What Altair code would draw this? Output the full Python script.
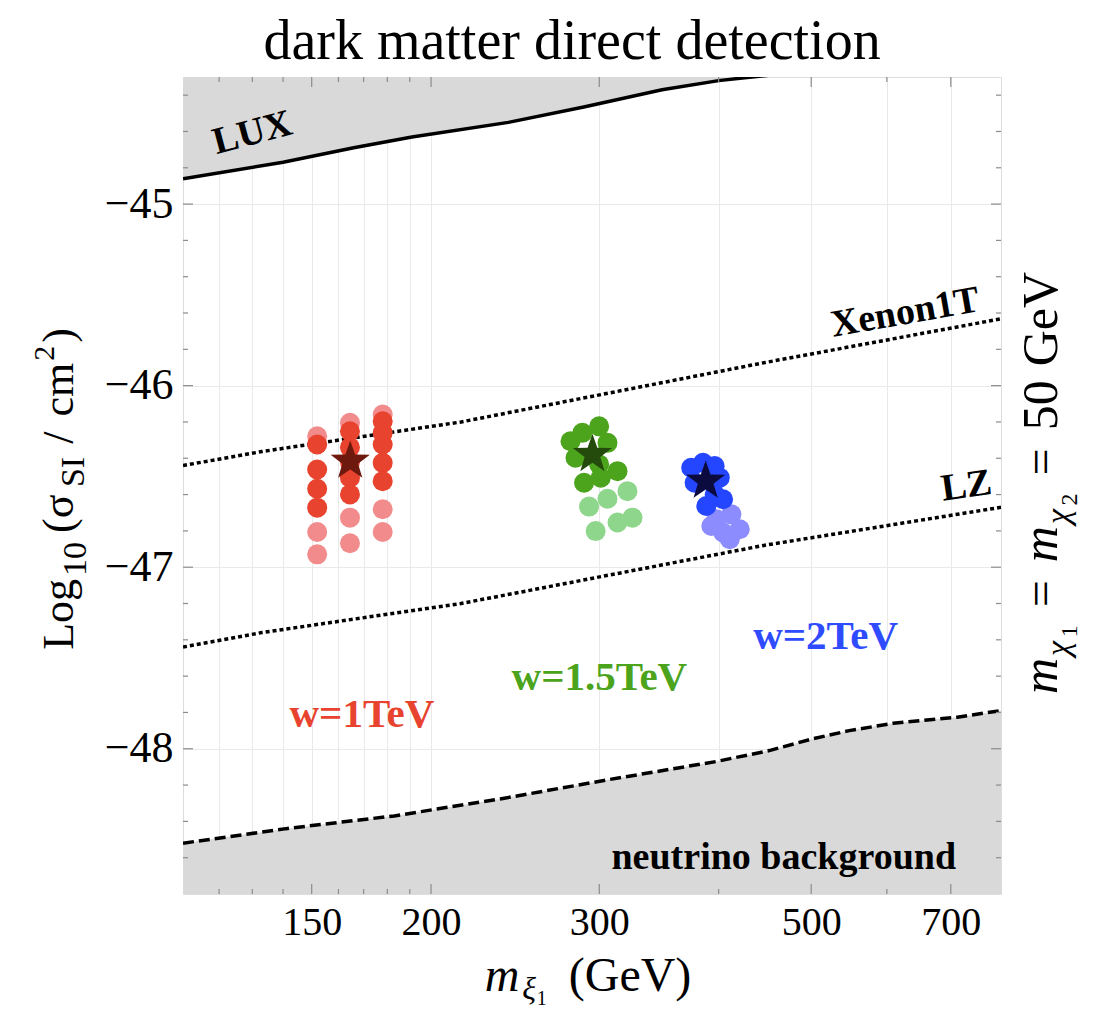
import math
import altair as alt
import pandas as pd

# ---------------- data ----------------
x_major = [150, 200, 300, 500, 700]
x_minor = [120, 130, 140, 160, 170, 180, 190, 400, 600]
y_major = [-45, -46, -47, -48]
y_minor = [-44.4, -44.6, -44.8, -45.2, -45.4, -45.6, -45.8, -46.2, -46.4, -46.6, -46.8,
           -47.2, -47.4, -47.6, -47.8, -48.2, -48.4, -48.6]

lux_m = [110, 140, 166, 191, 241, 289, 349, 400, 452, 480]
lux_s = [-44.86, -44.77, -44.69, -44.63, -44.55, -44.465, -44.37, -44.32, -44.29, -44.27]

xenon_m = [110, 133, 215, 446, 790]
xenon_s = [-46.44, -46.363, -46.20, -45.874, -45.632]

lz_m = [110, 133, 215, 446, 790]
lz_s = [-47.44, -47.36, -47.20, -46.88, -46.67]

nu_m = [110, 141, 183, 237, 307, 398, 452, 502, 548, 609, 711, 790]
nu_s = [-48.52, -48.44, -48.37, -48.275, -48.17, -48.07, -48.01, -47.945, -47.90, -47.86, -47.826, -47.79]

# w = 1 TeV (red)
red_dark_m = [152, 152, 152, 152, 164.5, 164.5, 164.5, 164.5, 164.5, 178, 178, 178, 178, 178]
red_dark_s = [-46.324, -46.462, -46.568, -46.672, -46.251, -46.34, -46.42, -46.507, -46.599,
              -46.196, -46.26, -46.324, -46.425, -46.526]
red_light_m = [152, 152, 152, 164.5, 164.5, 164.5, 178, 178, 178]
red_light_s = [-46.279, -46.806, -46.929, -46.205, -46.727, -46.868, -46.159, -46.681, -46.806]

# w = 1.5 TeV (green)
green_dark_m = [279.9, 288, 299.9, 306, 283.3, 299.9, 313.5, 289.2, 301.1]
green_dark_s = [-46.306, -46.26, -46.224, -46.315, -46.397, -46.434, -46.471, -46.535, -46.507]
green_light_m = [292.7, 306, 321.1, 297.4, 313.5, 325]
green_light_s = [-46.666, -46.623, -46.581, -46.801, -46.754, -46.727]

# w = 2 TeV (blue)
blue_dark_m = [374.4, 385.2, 396.2, 401.1, 377.5, 388.3, 404.3, 396.2]
blue_dark_s = [-46.452, -46.425, -46.443, -46.507, -46.535, -46.663, -46.626, -46.599]
blue_light_m = [397.8, 412.5, 420.9, 404.3, 410.9, 393]
blue_light_s = [-46.736, -46.709, -46.791, -46.809, -46.846, -46.773]

star_m = [164.6, 295.1, 387.7]
star_s = [-46.416, -46.379, -46.526]
star_group = ["red", "green", "blue"]

curve_labels = ["LUX", "Xenon1T", "LZ", "neutrino background"]
curve_label_m = [130, 627, 727, 468]
curve_label_s = [-44.61, -45.6, -46.555, -48.604]

w_labels = ["w=1TeV", "w=1.5TeV", "w=2TeV"]
w_label_m = [169.3, 300.1, 517.6]
w_label_s = [-47.813, -47.61, -47.385]

# ---------------- style / layout ----------------
W, H = 818, 817
FONT = "Liberation Serif"
GRAY_FILL = "#d9d9d9"
TICK = "#8c8c8c"
GRID = "#e9e9e9"
xs = alt.Scale(type="log", domain=[110, 790], nice=False)
ys = alt.Scale(domain=[-48.8, -44.3], nice=False, zero=False)

XAXIS = alt.Axis(
    values=sorted(x_major + x_minor), format="d",
    labelExpr="indexof([150,200,300,500,700], datum.value) >= 0 ? datum.label : ''",
    ticks=False, domain=False, grid=True, gridColor=GRID, gridWidth=1,
    labelFont=FONT, labelFontSize=40, labelPadding=8, labelColor="black",
    labelOverlap=False, labelFlush=False, title=None)
YAXIS = alt.Axis(
    values=y_major, format="d", ticks=False, domain=False, grid=True,
    gridColor=GRID, gridWidth=1, labelFont=FONT, labelFontSize=44,
    labelPadding=10, labelColor="black", labelOverlap=False, labelFlush=False, title=None)

RED, RED_L, RED_S = "#e8432e", "#f28c8c", "#6e190e"
GRN, GRN_L, GRN_S = "#4ca31c", "#8fd68d", "#244a0c"
BLU, BLU_L, BLU_S = "#2446ff", "#8c8cff", "#0b0b40"

REG = {'L': .611, 'o': .5, 'g': .5, '1': .5, '0': .5, '2': .5, '5': .5, '(': .333, ')': .333,
       'σ': .55, 'S': .556, 'I': .333, ' ': .25, '/': .278, 'c': .444, 'm': .778, '=': .564,
       'G': .722, 'e': .444, 'V': .722, 'χ': .55, 'ξ': .45}
ITA = dict(REG, m=.722)


def tw(s, size, italic=False):
    t = ITA if italic else REG
    return sum(t.get(ch, .5) for ch in s) * size


def txt(text, x, y, size, angle=0, align="left", italic=False, bold=False,
        color="black", baseline="alphabetic"):
    props = dict(font=FONT, fontSize=size, align=align, baseline=baseline, color=color)
    if angle:
        props["angle"] = angle
    if italic:
        props["fontStyle"] = "italic"
    if bold:
        props["fontWeight"] = "bold"
    return alt.Chart(pd.DataFrame({"t": [text]})).mark_text(**props).encode(
        text="t:N", x=alt.value(x), y=alt.value(y))


def rotated(pieces, base_x, center_y):
    total = sum(g + tw(t, s, it) for t, s, p, g, it in pieces)
    y = center_y + total / 2
    out = []
    for t, s, p, g, it in pieces:
        y -= g
        out.append(txt(t, base_x + p, y, s, angle=270, italic=it))
        y -= tw(t, s, it)
    return out


def horizontal(pieces, center_x, base_y):
    total = sum(g + tw(t, s, it) for t, s, p, g, it in pieces)
    x = center_x - total / 2
    out = []
    for t, s, p, g, it in pieces:
        x += g
        out.append(txt(t, x, base_y + p, s, italic=it))
        x += tw(t, s, it)
    return out


def df(m, s):
    return pd.DataFrame({"m": m, "s": s})


X = lambda: alt.X("m:Q", scale=xs, axis=XAXIS)
Y = lambda: alt.Y("s:Q", scale=ys, axis=YAXIS)

layers = []

# shaded exclusion regions
layers.append(alt.Chart(df(lux_m, lux_s)).mark_area(color=GRAY_FILL, clip=True).encode(
    x=X(), y=Y(), y2=alt.datum(-44.3)))
layers.append(alt.Chart(df(nu_m, nu_s)).mark_area(color=GRAY_FILL, clip=True).encode(
    x=X(), y=Y(), y2=alt.datum(-48.8)))

# curves
layers.append(alt.Chart(df(lux_m, lux_s)).mark_line(color="black", strokeWidth=3.5, clip=True).encode(x=X(), y=Y()))
layers.append(alt.Chart(df(xenon_m, xenon_s)).mark_line(color="black", strokeWidth=3.5, strokeDash=[4, 3], clip=True).encode(x=X(), y=Y()))
layers.append(alt.Chart(df(lz_m, lz_s)).mark_line(color="black", strokeWidth=3.5, strokeDash=[4, 3], clip=True).encode(x=X(), y=Y()))
layers.append(alt.Chart(df(nu_m, nu_s)).mark_line(color="black", strokeWidth=3.5, strokeDash=[11, 5], clip=True).encode(x=X(), y=Y()))

# ticks (inward, all four sides)
for vals, ln in ((x_major, 10), (x_minor, 5)):
    d = pd.DataFrame({"m": vals})
    layers.append(alt.Chart(d).mark_rule(color=TICK, strokeWidth=1.2).encode(
        x=X(), y=alt.value(H), y2=alt.value(H - ln)))
    layers.append(alt.Chart(d).mark_rule(color=TICK, strokeWidth=1.2).encode(
        x=X(), y=alt.value(0), y2=alt.value(ln)))
for vals, ln in ((y_major, 10), (y_minor, 5)):
    d = pd.DataFrame({"s": vals})
    layers.append(alt.Chart(d).mark_rule(color=TICK, strokeWidth=1.2).encode(
        y=Y(), x=alt.value(0), x2=alt.value(ln)))
    layers.append(alt.Chart(d).mark_rule(color=TICK, strokeWidth=1.2).encode(
        y=Y(), x=alt.value(W), x2=alt.value(W - ln)))

# scatter points
PT = 400
for (m, s, c) in ((red_light_m, red_light_s, RED_L), (red_dark_m, red_dark_s, RED),
                  (green_light_m, green_light_s, GRN_L), (green_dark_m, green_dark_s, GRN),
                  (blue_light_m, blue_light_s, BLU_L), (blue_dark_m, blue_dark_s, BLU)):
    layers.append(alt.Chart(df(m, s)).mark_point(filled=True, shape="circle", size=PT,
                                                  color=c, opacity=1, strokeWidth=0).encode(x=X(), y=Y()))

# stars
pts = []
for i in range(10):
    r = 1.0 if i % 2 == 0 else 0.4
    a = -math.pi / 2 + i * math.pi / 5
    pts.append(f"{r * math.cos(a):.3f},{r * math.sin(a):.3f}")
STAR = "M" + " L".join(pts) + " Z"
star_df = pd.DataFrame({"m": star_m, "s": star_s, "g": star_group})
layers.append(alt.Chart(star_df).mark_point(filled=True, shape=STAR, size=1700, opacity=1,
                                            strokeWidth=0).encode(
    x=X(), y=Y(),
    color=alt.Color("g:N", scale=alt.Scale(domain=["red", "green", "blue"], range=[RED_S, GRN_S, BLU_S]),
                    legend=None)))

# curve labels
angles = [345, 350, 352, 0]
sizes = [38, 38, 38, 38]
for t, m, s, a, fs in zip(curve_labels, curve_label_m, curve_label_s, angles, sizes):
    props = dict(font=FONT, fontSize=fs, fontWeight="bold", color="black", align="center", baseline="middle")
    if a:
        props["angle"] = a
    layers.append(alt.Chart(pd.DataFrame({"m": [m], "s": [s], "t": [t]})).mark_text(**props).encode(
        x=X(), y=Y(), text="t:N"))

for t, m, s, c in zip(w_labels, w_label_m, w_label_s, (RED, GRN, "#2f4bff")):
    layers.append(alt.Chart(pd.DataFrame({"m": [m], "s": [s], "t": [t]})).mark_text(
        font=FONT, fontSize=41, fontWeight="bold", color=c, align="center", baseline="middle").encode(
        x=X(), y=Y(), text="t:N"))

# title and axis titles
layers.append(txt("dark matter direct detection", W / 2 - 20, -18, 56, align="center"))

layers += horizontal([("m", 48, 0, 0, True), ("ξ", 32, 8, 3, True), ("1", 20, 14, 0, False),
                      ("(GeV)", 48, 0, 22, False)], 405, 914)

layers += rotated([("Log", 44, 0, 0, False), ("10", 34, 13, 3, False), ("(σ", 44, 0, 9, False),
                   ("SI", 34, 11, 7, False), ("/", 44, 0, 13, False), ("cm", 44, 0, 15, False),
                   ("2", 30, -19, 2, False), (")", 44, 0, 3, False)], -110, 412)

layers += rotated([("m", 50, 0, 0, True), ("χ", 34, 12, 2, True), ("1", 24, 20, 0, False),
                   ("=", 48, 0, 18, False), ("m", 50, 0, 18, True), ("χ", 34, 12, 2, True),
                   ("2", 24, 20, 0, False), ("=", 48, 0, 18, False), ("50", 50, 0, 18, False),
                   ("GeV", 50, 0, 14, False)],
                  874, 406)

chart = alt.layer(*layers).properties(
    width=W, height=H,
    padding={"left": 175, "top": 69, "right": 90, "bottom": 119},
    autosize=alt.AutoSizeParams(type="none"),
).configure_view(stroke="#9a9a9a", strokeWidth=1.5).configure(background="white")

chart.save("out.html", embed_options={"renderer": "svg", "actions": False})
